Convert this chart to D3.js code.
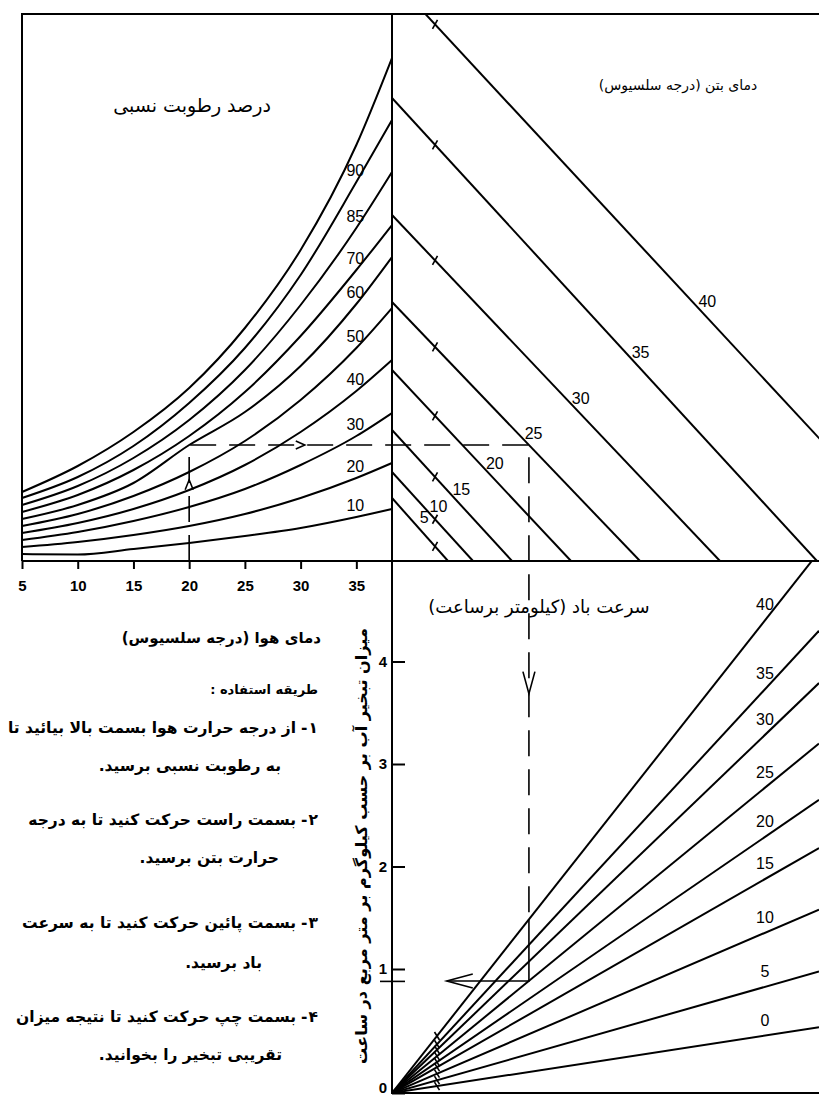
<!DOCTYPE html>
<html>
<head>
<meta charset="utf-8">
<script src="https://cdn.jsdelivr.net/npm/d3@7"></script>
<style>
    html, body { margin: 0; padding: 0; background: #ffffff; }
    svg { display: block; }
</style>
</head>
<body>
<div id="chart"></div>
<script>
"use strict";

const air_temperatures = [5, 10, 15, 20, 25, 30, 35, 38.2];
const air_ticks = [5, 10, 15, 20, 25, 30, 35];

// Relative humidity curves. Heights are in panel units above the base line
const humidity_values = [10, 20, 30, 40, 50, 60, 70, 80, 90, 100];
const humidity_labels = ["10", "20", "30", "40", "50", "60", "70", "85", "90", ""];
const rh_10 = [0.7, 0.65, 1.2, 1.8, 2.5, 3.3, 4.4, 5.2];
const rh_20 = [1.4, 1.9, 2.6, 3.5, 4.7, 6.3, 8.3, 9.8];
const rh_30 = [2.1, 2.9, 4.0, 5.4, 7.2, 9.6, 12.5, 14.8];
const rh_40 = [2.8, 3.8, 5.2, 7.1, 9.6, 12.9, 17.0, 20.1];
const rh_50 = [3.5, 4.7, 6.5, 8.9, 12.0, 16.1, 21.3, 25.3];
const rh_60 = [4.2, 5.6, 7.8, 11.6, 14.9, 19.5, 25.7, 30.4];
const rh_70 = [4.9, 6.6, 9.1, 12.5, 16.9, 22.5, 29.1, 33.6];
const rh_80 = [5.6, 7.5, 10.3, 14.1, 19.1, 25.6, 33.3, 38.9];
const rh_90 = [6.3, 8.4, 11.5, 15.8, 21.3, 28.6, 37.9, 44.1];
const rh_100 = [6.9, 9.5, 12.9, 17.3, 23.3, 31.1, 41.6, 50.3];

// Concrete temperature lines: height where each one leaves the left edge
// and the offset where it meets the base line
const concrete_temperatures = [5, 10, 15, 20, 25, 30, 35, 40];
const concrete_left_heights = [6.3, 8.9, 13.1, 19.1, 25.9, 34.6, 46.3, 58.3];
const concrete_base_offsets = [5.6, 8.1, 12.0, 17.9, 24.8, 32.8, 42.5, 54.1];

// Wind speed lines (km/h): evaporation where each one reaches the right edge
const wind_speeds = [0, 5, 10, 15, 20, 25, 30, 35, 40];
const wind_evaporation_at_edge = [0.53, 0.98, 1.58, 2.18, 2.65, 3.2, 3.79, 4.3, 5.07];

// Evaporation rate (kg/m2/h)
const evaporation_ticks = [0, 1, 2, 3, 4];

// The worked example drawn with dashed lines
const example_air_temperature = 20;
const example_humidity = 60;
const example_concrete_temperature = 25;
const example_wind_speed = 25;
const example_evaporation = 0.9;

// Texts
const humidity_title = "درصد رطوبت نسبی";
const concrete_title = "دمای بتن (درجه سلسیوس)";
const wind_title = "سرعت باد (کیلومتر برساعت)";
const air_title = "دمای هوا (درجه سلسیوس)";
const evaporation_title = "میزان تبخیر آب بر حسب کیلوگرم بر متر مربع در ساعت";
const usage_title = "طریقه استفاده :";
const usage_lines = [
    "۱- از درجه حرارت هوا بسمت بالا بیائید تا",
    "به رطوبت نسبی برسید.",
    "۲- بسمت راست حرکت کنید تا به درجه",
    "حرارت بتن برسید.",
    "۳- بسمت پائین حرکت کنید تا به سرعت",
    "باد برسید.",
    "۴- بسمت چپ حرکت کنید تا نتیجه میزان",
    "تقریبی تبخیر را بخوانید."
];

const WIDTH = 819;
const HEIGHT = 1097;
const FA_FONT = "'DejaVu Sans', sans-serif";
const NUM_FONT = "'Liberation Sans', Arial, sans-serif";

const svg = d3.select("#chart").append("svg")
    .attr("width", WIDTH)
    .attr("height", HEIGHT);

svg.append("rect")
    .attr("width", WIDTH)
    .attr("height", HEIGHT)
    .attr("fill", "white");

// Scales. The upper panels share the vapour axis, the right panels share x
const x_air = d3.scaleLinear().domain([5, 38.2]).range([22, 392]);
const y_vapor = d3.scaleLinear().domain([0, 54.7]).range([561, 14]);
const x_right = d3.scaleLinear().domain([0, 42.7]).range([392, 819]);
// the zero of the printed evaporation scale sits lower than the even spacing
const y_evap = d3.scaleLinear().domain([0, 1, 5]).range([1093, 969, 559]);

const left_x = x_air.range()[0];
const mid_x = x_right.range()[0];
const right_x = x_right.range()[1];
const top_y = y_vapor.range()[1];
const mid_y = y_vapor.range()[0];
const bottom_y = y_evap.range()[0];

const defs = svg.append("defs");
defs.append("clipPath").attr("id", "clip_top_right")
    .append("rect")
    .attr("x", mid_x).attr("y", top_y)
    .attr("width", right_x - mid_x).attr("height", mid_y - top_y);
defs.append("clipPath").attr("id", "clip_bottom_right")
    .append("rect")
    .attr("x", mid_x).attr("y", mid_y)
    .attr("width", right_x - mid_x).attr("height", bottom_y - mid_y);

// Frame
svg.append("path")
    .attr("d",
        "M" + left_x + "," + mid_y + "V" + top_y + "H" + right_x +
        "M" + left_x + "," + mid_y + "H" + right_x +
        "M" + mid_x + "," + top_y + "V" + bottom_y + "H" + right_x)
    .attr("stroke", "black")
    .attr("stroke-width", 2)
    .attr("fill", "none");

// Relative humidity curves
const humidity_series = [rh_10, rh_20, rh_30, rh_40, rh_50, rh_60, rh_70, rh_80, rh_90, rh_100];

const humidity_line = d3.line()
    .x(function (d) { return x_air(d[0]); })
    .y(function (d) { return y_vapor(d[1]); })
    .curve(d3.curveMonotoneX);

const humidity_group = svg.append("g");
humidity_series.forEach(function (values, index) {
    const points = air_temperatures.map(function (t, j) { return [t, values[j]]; });
    humidity_group.append("path")
        .attr("d", humidity_line(points))
        .attr("fill", "none")
        .attr("stroke", "black")
        .attr("stroke-width", 2);

    const label_index = air_temperatures.indexOf(35);
    humidity_group.append("text")
        .attr("x", x_air(35) - 1)
        .attr("y", y_vapor(values[label_index]) - 10)
        .attr("text-anchor", "middle")
        .attr("dominant-baseline", "middle")
        .attr("font-family", NUM_FONT)
        .attr("font-size", 16)
        .text(humidity_labels[index]);
});

// Air temperature axis
const air_axis = d3.axisBottom(x_air)
    .tickValues(air_ticks)
    .tickSize(8)
    .tickPadding(11)
    .tickFormat(d3.format("d"));

svg.append("g")
    .attr("transform", "translate(0," + mid_y + ")")
    .call(air_axis)
    .call(function (g) { g.select(".domain").remove(); })
    .call(function (g) {
        g.selectAll("line").attr("stroke", "black").attr("stroke-width", 2);
        g.selectAll("text")
            .attr("font-family", NUM_FONT)
            .attr("font-size", 15)
            .attr("font-weight", "bold")
            .attr("fill", "black");
    });

// Concrete temperature lines, clipped to the top right panel
function concrete_point(index, height) {
    // x position of a concrete line at a given height
    const u = concrete_base_offsets[index] * (1 - height / concrete_left_heights[index]);
    return x_right(u);
}

const concrete_group = svg.append("g").attr("clip-path", "url(#clip_top_right)");
const guide_a = [411, 518];
const guide_b = [693, 303];

concrete_temperatures.forEach(function (temperature, index) {
    const x0 = x_right(0);
    const y0 = y_vapor(concrete_left_heights[index]);
    const x1 = x_right(concrete_base_offsets[index]);
    const y1 = y_vapor(0);

    concrete_group.append("line")
        .attr("x1", x0).attr("y1", y0)
        .attr("x2", x1).attr("y2", y1)
        .attr("stroke", "black")
        .attr("stroke-width", 2);

    // small break mark drawn across every line near the left edge
    const mark_x = 435;
    const mark_y = y0 + (y1 - y0) * (mark_x - x0) / (x1 - x0);
    concrete_group.append("line")
        .attr("x1", mark_x - 2.5).attr("y1", mark_y + 4.5)
        .attr("x2", mark_x + 2.5).attr("y2", mark_y - 4.5)
        .attr("stroke", "black")
        .attr("stroke-width", 1.6);

    // labels sit where each line crosses a diagonal guide
    const line_slope = (y1 - y0) / (x1 - x0);
    const guide_slope = (guide_b[1] - guide_a[1]) / (guide_b[0] - guide_a[0]);
    const cross_x = (guide_a[1] - guide_slope * guide_a[0] - y0 + line_slope * x0) / (line_slope - guide_slope);
    const cross_y = y0 + line_slope * (cross_x - x0);

    svg.append("text")
        .attr("x", cross_x + 14)
        .attr("y", cross_y)
        .attr("text-anchor", "middle")
        .attr("dominant-baseline", "middle")
        .attr("font-family", NUM_FONT)
        .attr("font-size", 16)
        .text(temperature);
});

// Wind speed lines fanning out of the origin of the evaporation axis
function wind_y_at(index, x) {
    const x0 = x_right(0), y0 = y_evap(0);
    const x1 = x_right.range()[1], y1 = y_evap(wind_evaporation_at_edge[index]);
    return y0 + (y1 - y0) * (x - x0) / (x1 - x0);
}

const wind_group = svg.append("g").attr("clip-path", "url(#clip_bottom_right)");
wind_speeds.forEach(function (speed, index) {
    const edge = x_right.domain()[1];
    wind_group.append("line")
        .attr("x1", x_right(0)).attr("y1", y_evap(0))
        .attr("x2", x_right(edge)).attr("y2", y_evap(wind_evaporation_at_edge[index]))
        .attr("stroke", "black")
        .attr("stroke-width", 2);

    const mark_x = 437;
    const mark_y = wind_y_at(index, mark_x);
    wind_group.append("line")
        .attr("x1", mark_x - 2.5).attr("y1", mark_y - 4)
        .attr("x2", mark_x + 2.5).attr("y2", mark_y + 4)
        .attr("stroke", "black")
        .attr("stroke-width", 1.6);

    const label_x = 765;
    svg.append("text")
        .attr("x", label_x)
        .attr("y", wind_y_at(index, label_x) - 14)
        .attr("text-anchor", "middle")
        .attr("dominant-baseline", "middle")
        .attr("font-family", NUM_FONT)
        .attr("font-size", 16)
        .text(speed);
});

// Evaporation axis, ticks point into the panel
const evap_axis = d3.axisLeft(y_evap)
    .tickValues(evaporation_ticks)
    .tickSizeInner(-13)
    .tickSizeOuter(0)
    .tickPadding(5)
    .tickFormat(d3.format("d"));

svg.append("g")
    .attr("transform", "translate(" + x_right(0) + ",0)")
    .call(evap_axis)
    .call(function (g) { g.select(".domain").remove(); })
    .call(function (g) {
        g.selectAll("line").attr("stroke", "black").attr("stroke-width", 2);
        g.selectAll("text")
            .attr("font-family", NUM_FONT)
            .attr("font-size", 15)
            .attr("font-weight", "bold")
            .attr("fill", "black");
        // keep the zero label inside the picture
        g.selectAll(".tick")
            .filter(function (d) { return d === 0; })
            .select("text")
            .attr("dy", "-0.05em");
    });

// Worked example
const air_index = air_temperatures.indexOf(example_air_temperature);
const humidity_height = humidity_series[humidity_values.indexOf(example_humidity)][air_index];
const concrete_index = concrete_temperatures.indexOf(example_concrete_temperature);
const wind_index = wind_speeds.indexOf(example_wind_speed);

const ex_x = x_air(example_air_temperature);
const ex_y = y_vapor(humidity_height);
const ex_cx = concrete_point(concrete_index, humidity_height);
const ex_first_cross = wind_y_at(wind_speeds.length - 1, ex_cx);
const ex_wind_y = wind_y_at(wind_index, ex_cx);
const ex_result_y = y_evap(example_evaporation);

const example_group = svg.append("g")
    .attr("fill", "none")
    .attr("stroke", "black")
    .attr("stroke-width", 1.6);

example_group.append("path")
    .attr("d", "M" + ex_x + "," + mid_y + "V" + ex_y + "H" + ex_cx + "V" + ex_first_cross)
    .attr("stroke-dasharray", "26,13");

const arrow_tip_x = ex_cx - (ex_cx - mid_x) * 0.6;
example_group.append("path")
    .attr("d", "M" + ex_cx + "," + ex_first_cross + "V" + ex_wind_y + "H" + arrow_tip_x);

// reading marked on the evaporation axis
example_group.append("line")
    .attr("x1", mid_x - 12).attr("y1", ex_result_y)
    .attr("x2", mid_x + 13).attr("y2", ex_result_y);

function draw_arrow(x, y, dx, dy, length, half_width) {
    // open arrow head with its tip at (x, y) pointing along (dx, dy)
    const bx = x - dx * length, by = y - dy * length;
    const px = -dy * half_width, py = dx * half_width;
    example_group.append("path")
        .attr("d", "M" + (bx + px) + "," + (by + py) + "L" + x + "," + y + "L" + (bx - px) + "," + (by - py));
}

draw_arrow(ex_x, mid_y - (mid_y - ex_y) * 0.7, 0, -1, 10, 4);
draw_arrow(ex_x + (mid_x - ex_x) * 0.57, ex_y, 1, 0, 9, 4);
draw_arrow(ex_cx, mid_y + (ex_first_cross - mid_y) * 0.37, 0, 1, 22, 6);
draw_arrow(arrow_tip_x, ex_wind_y, -1, 0, 26, 7);

// Titles and instructions
function persian_text(x, y, text, size, weight) {
    return svg.append("text")
        .attr("x", x)
        .attr("y", y)
        .attr("direction", "rtl")
        .attr("text-anchor", "middle")
        .attr("dominant-baseline", "middle")
        .attr("font-family", FA_FONT)
        .attr("font-size", size)
        .attr("font-weight", weight)
        .text(text);
}

// move a centred text so that its right end sits at the given x
function align_right(selection, right) {
    const measured = selection.node().getComputedTextLength();
    selection.attr("x", right - measured / 2);
    return selection;
}

// a piece of text whose right end sits at the given x
function right_text(right, y, text, size) {
    return svg.append("text")
        .attr("x", right)
        .attr("y", y)
        .attr("text-anchor", "end")
        .attr("dominant-baseline", "middle")
        .attr("font-family", FA_FONT)
        .attr("font-size", size)
        .attr("font-weight", "bold")
        .text(text);
}

persian_text(192, 106, humidity_title, 19, "normal");
persian_text(678, 86, concrete_title, 14, "normal");
persian_text(539, 608, wind_title, 18, "normal");
align_right(persian_text(0, 638, air_title, 15, "bold"), 321);
align_right(persian_text(0, 690, usage_title, 13, "bold"), 318);

// Numbered lines start at the right margin: the number, the dash and the
// words are set as separate pieces so the bidi layout cannot overlap them.
// The follow-on lines hang under the words.
const usage_right = 318;
const usage_size = 15.5;
const usage_follow_right = [null, 281, null, 279, null, 262, null, 282];
const usage_rows = [728, 766, 820, 858, 923, 963, 1017, 1055];
usage_lines.forEach(function (line, index) {
    const y = usage_rows[index];
    if (usage_follow_right[index] !== null) {
        align_right(persian_text(0, y, line, usage_size, "bold"), usage_follow_right[index]);
        return;
    }
    const parts = line.match(/^(\S+)-\s*(.*)$/);
    const number = right_text(usage_right, y, parts[1], usage_size);
    const number_width = number.node().getComputedTextLength();
    const dash = right_text(usage_right - number_width - 1, y, "-", usage_size);
    const dash_width = dash.node().getComputedTextLength();
    right_text(usage_right - number_width - dash_width - 6, y, parts[2], usage_size);
});

persian_text(0, 0, evaporation_title, 16, "bold")
    .attr("transform", "translate(362,846) rotate(-90)")
    .call(function (t) {
        const measured = t.node().getComputedTextLength();
        t.attr("font-size", (16 * 436 / measured).toFixed(2));
    });
</script>
</body>
</html>
